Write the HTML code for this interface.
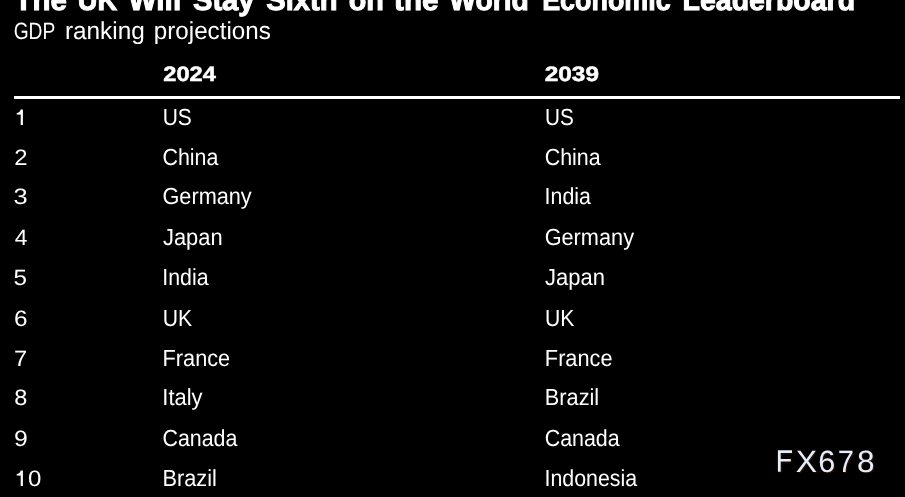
<!DOCTYPE html>
<html><head><meta charset="utf-8">
<style>
html,body{margin:0;padding:0;background:#000;}
body{width:905px;height:497px;overflow:hidden;position:relative;}
#c{position:absolute;left:0;top:0;width:905px;height:497px;will-change:transform;font-family:"Liberation Sans",sans-serif;color:#fff;text-rendering:geometricPrecision;}
.t{position:absolute;white-space:nowrap;transform-origin:0 0;}
#rule{position:absolute;left:14px;top:96px;width:886px;height:3px;background:#fff;}
.tt{-webkit-text-stroke:1px #fff;}
.hs{-webkit-text-stroke:0.5px #fff;}
.wm{color:#e4eefc;text-shadow:1px 1px 1px rgba(70,35,0,0.6);}
.wmf{filter:drop-shadow(1px 1px 1px rgba(70,35,0,0.6));overflow:visible;}
</style></head><body><div id="c">
<div class="t tt" style="left:14px;top:-14px;font-size:29.60px;line-height:29.60px;transform:translateX(0.56px) scaleX(0.9929);font-weight:bold;">The</div>
<div class="t tt" style="left:77px;top:-14px;font-size:29.60px;line-height:29.60px;transform:translateX(0.80px) scaleX(0.9188);font-weight:bold;">UK</div>
<div class="t tt" style="left:128px;top:-14px;font-size:29.60px;line-height:29.60px;transform:translateX(0.40px) scaleX(1.0089);font-weight:bold;">Will</div>
<div class="t tt" style="left:192px;top:-14px;font-size:29.60px;line-height:29.60px;transform:translateX(0.92px) scaleX(0.9868);font-weight:bold;">Stay</div>
<div class="t tt" style="left:266px;top:-14px;font-size:29.60px;line-height:29.60px;transform:translateX(0.30px) scaleX(0.9842);font-weight:bold;">Sixth</div>
<div class="t tt" style="left:348px;top:-14px;font-size:29.60px;line-height:29.60px;transform:translateX(0.77px) scaleX(0.9725);font-weight:bold;">on</div>
<div class="t tt" style="left:394px;top:-14px;font-size:29.60px;line-height:29.60px;transform:translateX(0.05px) scaleX(0.9978);font-weight:bold;">the</div>
<div class="t tt" style="left:449px;top:-14px;font-size:29.60px;line-height:29.60px;transform:translateX(0.20px) scaleX(0.9564);font-weight:bold;">World</div>
<div class="t tt" style="left:542px;top:-14px;font-size:29.60px;line-height:29.60px;transform:translateX(0.18px) scaleX(0.9082);font-weight:bold;">Economic</div>
<div class="t tt" style="left:682px;top:-14px;font-size:29.60px;line-height:29.60px;transform:translateX(0.57px) scaleX(0.9621);font-weight:bold;">Leaderboard</div>
<div class="t" style="left:13px;top:21px;font-size:23.70px;line-height:23.70px;transform:translateX(0.66px) scaleX(0.8110);">GDP</div>
<div class="t" style="left:64px;top:20px;font-size:24.60px;line-height:24.60px;transform:translateX(0.89px) scaleX(0.9908);">ranking</div>
<div class="t" style="left:153px;top:20px;font-size:24.60px;line-height:24.60px;transform:translateX(0.86px) scaleX(0.9828);">projections</div>
<div class="t hs" style="left:163px;top:65px;font-size:20.80px;line-height:20.80px;transform:translateX(0.28px) scaleX(1.1355);font-weight:bold;">2024</div>
<div class="t hs" style="left:544px;top:65px;font-size:20.80px;line-height:20.80px;transform:translateX(0.77px) scaleX(1.1712);font-weight:bold;">2039</div>
<div id="rule"></div>
<svg class="t" style="left:16.00px;top:109.00px" width="9" height="17" viewBox="0 0 9 17"><path fill="#fff" d="M4.7,0.4 L6.9,0.4 L6.9,16 L4.7,16 L4.7,5.6 C3.8,5.8 2.3,5.7 0.7,5.6 L0.7,3.9 C2.6,3.8 4.2,2.7 4.7,0.4 Z"/></svg>
<div class="t" style="left:162px;top:106px;font-size:23.30px;line-height:23.30px;transform:translateX(0.70px) scaleX(0.9002);">US</div>
<div class="t" style="left:545px;top:106px;font-size:23.30px;line-height:23.30px;transform:translateX(0.03px) scaleX(0.8896);">US</div>
<div class="t" style="left:14px;top:147px;font-size:22.20px;line-height:22.20px;transform:translateX(0.21px) scaleX(1.0745);">2</div>
<div class="t" style="left:162px;top:146px;font-size:23.30px;line-height:23.30px;transform:translateX(0.49px) scaleX(0.9186);">China</div>
<div class="t" style="left:544px;top:146px;font-size:23.30px;line-height:23.30px;transform:translateX(0.67px) scaleX(0.9199);">China</div>
<div class="t" style="left:13px;top:186px;font-size:22.20px;line-height:22.20px;transform:translateX(0.46px) scaleX(1.1433);">3</div>
<div class="t" style="left:162px;top:185px;font-size:23.30px;line-height:23.30px;transform:translateX(0.47px) scaleX(0.9316);">Germany</div>
<div class="t" style="left:544px;top:185px;font-size:23.30px;line-height:23.30px;transform:translateX(0.58px) scaleX(0.9165);">India</div>
<div class="t" style="left:14px;top:227px;font-size:22.20px;line-height:22.20px;transform:translateX(0.84px) scaleX(1.0324);">4</div>
<div class="t" style="left:162px;top:226px;font-size:23.30px;line-height:23.30px;transform:translateX(0.96px) scaleX(0.9396);">Japan</div>
<div class="t" style="left:544px;top:226px;font-size:23.30px;line-height:23.30px;transform:translateX(0.63px) scaleX(0.9328);">Germany</div>
<div class="t" style="left:13px;top:267px;font-size:22.20px;line-height:22.20px;transform:translateX(0.57px) scaleX(1.0942);">5</div>
<div class="t" style="left:162px;top:266px;font-size:23.30px;line-height:23.30px;transform:translateX(0.29px) scaleX(0.9153);">India</div>
<div class="t" style="left:545px;top:266px;font-size:23.30px;line-height:23.30px;transform:scaleX(0.9431);">Japan</div>
<div class="t" style="left:14px;top:308px;font-size:22.20px;line-height:22.20px;transform:translateX(0.11px) scaleX(1.0970);">6</div>
<div class="t" style="left:162px;top:307px;font-size:23.30px;line-height:23.30px;transform:translateX(0.65px) scaleX(0.9073);">UK</div>
<div class="t" style="left:544px;top:307px;font-size:23.30px;line-height:23.30px;transform:translateX(0.95px) scaleX(0.9082);">UK</div>
<div class="t" style="left:14px;top:348px;font-size:22.20px;line-height:22.20px;transform:translateX(0.08px) scaleX(1.0693);">7</div>
<div class="t" style="left:162px;top:347px;font-size:23.30px;line-height:23.30px;transform:translateX(0.55px) scaleX(0.9327);">France</div>
<div class="t" style="left:544px;top:347px;font-size:23.30px;line-height:23.30px;transform:translateX(0.86px) scaleX(0.9324);">France</div>
<div class="t" style="left:14px;top:387px;font-size:22.20px;line-height:22.20px;transform:translateX(0.36px) scaleX(1.0581);">8</div>
<div class="t" style="left:162px;top:386px;font-size:23.30px;line-height:23.30px;transform:translateX(0.33px) scaleX(0.9391);">Italy</div>
<div class="t" style="left:544px;top:386px;font-size:23.30px;line-height:23.30px;transform:translateX(0.86px) scaleX(0.9326);">Brazil</div>
<div class="t" style="left:14px;top:428px;font-size:22.20px;line-height:22.20px;transform:translateX(0.05px) scaleX(1.1165);">9</div>
<div class="t" style="left:162px;top:427px;font-size:23.30px;line-height:23.30px;transform:translateX(0.50px) scaleX(0.9178);">Canada</div>
<div class="t" style="left:544px;top:427px;font-size:23.30px;line-height:23.30px;transform:translateX(0.68px) scaleX(0.9190);">Canada</div>
<svg class="t" style="left:16.00px;top:470.00px" width="9" height="17" viewBox="0 0 9 17"><path fill="#fff" d="M4.7,0.4 L6.9,0.4 L6.9,16 L4.7,16 L4.7,5.6 C3.8,5.8 2.3,5.7 0.7,5.6 L0.7,3.9 C2.6,3.8 4.2,2.7 4.7,0.4 Z"/></svg>
<div class="t" style="left:28px;top:468px;font-size:22.20px;line-height:22.20px;transform:translateX(0.02px) scaleX(1.0836);">0</div>
<div class="t" style="left:162px;top:467px;font-size:23.30px;line-height:23.30px;transform:translateX(0.56px) scaleX(0.9327);">Brazil</div>
<div class="t" style="left:544px;top:467px;font-size:23.30px;line-height:23.30px;transform:translateX(0.56px) scaleX(0.9166);">Indonesia</div>
<svg class="t wmf" style="left:776px;top:448px" width="20" height="26" viewBox="776 448 20 26"><path fill="#e4eefc" d="M777.9,450.3 H792.0 V452.9 H780.7 V459.1 H790.8 V461.6 H780.7 V471.8 H777.9 Z"/></svg>
<div class="t wm" style="left:795px;top:447px;font-size:30.80px;line-height:30.80px;transform:translateX(0.86px) scaleX(1.0343);">X</div>
<div class="t wm" style="left:818px;top:447px;font-size:30.80px;line-height:30.80px;transform:translateX(0.33px) scaleX(0.9947);">6</div>
<div class="t wm" style="left:837px;top:447px;font-size:30.80px;line-height:30.80px;transform:translateX(0.81px) scaleX(0.9426);">7</div>
<div class="t wm" style="left:857px;top:447px;font-size:30.80px;line-height:30.80px;transform:translateX(0.12px) scaleX(1.0233);">8</div>
</div></body></html>
